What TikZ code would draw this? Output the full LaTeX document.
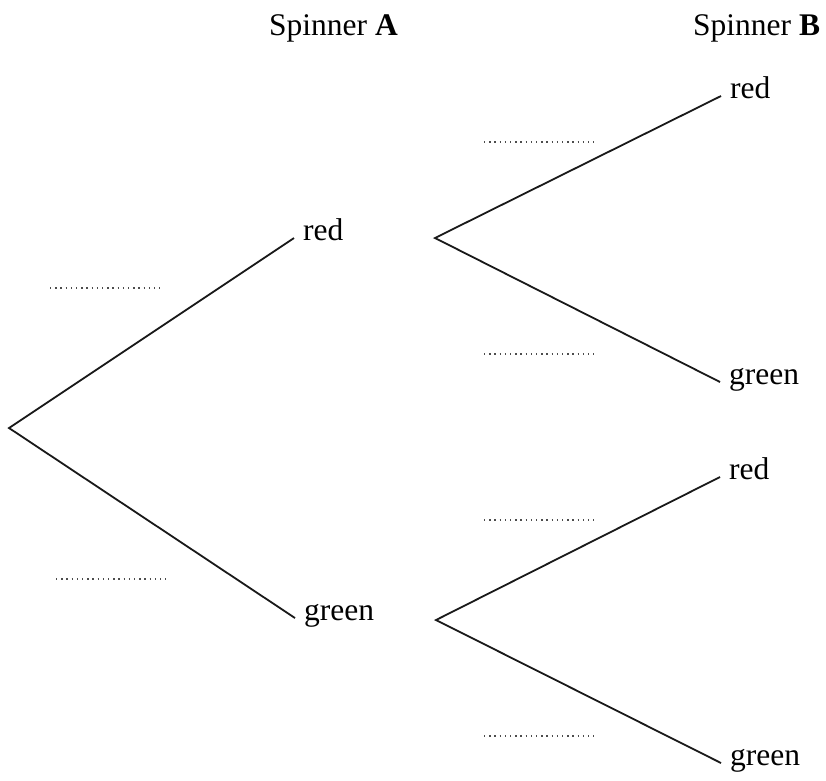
\documentclass[tikz,border=0pt]{standalone}
\usepackage{fontspec}
\setmainfont{Liberation Serif}
\usepackage{tikz}
\usetikzlibrary{positioning}

\begin{document}
\begin{tikzpicture}[
    x=1pt, y=-1pt,
    every node/.style={font=\fontsize{31.5}{36}\selectfont},
    lbl/.style={anchor=west, inner xsep=9pt, inner ysep=0pt, text height=0.45em, text depth=0pt},
    branch/.style={line width=1.8pt, draw=black!90, line join=miter},
    blank/.style={draw=black!70, line width=1.3pt, dash pattern=on 1.3pt off 3.9pt}
  ]
    \useasboundingbox (0,0) rectangle (826,780);
    % headings
    \node[anchor=base west, inner sep=0pt] (headA) at (269,35) {Spinner \textbf{A}};
    \node[anchor=base west, inner sep=0pt] (headB) at (693,35) {Spinner \textbf{B}};
    % spinner A
    \coordinate (root) at (9,428);
    \node[lbl] (ared) at (294,238) {red};
    \node[lbl] (agreen) at (295,618) {green};
    \draw[branch] (ared.west) -- (root) -- (agreen.west);
    % spinner B
    \coordinate (rfork) at (435,238);
    \coordinate (gfork) at (436,620);
    \node[lbl] (rred) at (721,96) {red};
    \node[lbl] (rgreen) at (720,382) {green};
    \node[lbl] (gred) at (720,477) {red};
    \node[lbl] (ggreen) at (721,763) {green};
    \draw[branch] (rred.west) -- (rfork) -- (rgreen.west);
    \draw[branch] (gred.west) -- (gfork) -- (ggreen.west);
    % blanks
    \draw[blank] (50,288) -- (160,288);
    \draw[blank] (56,579) -- (166,579);
    \draw[blank] (484,142) -- (594,142);
    \draw[blank] (484,354) -- (594,354);
    \draw[blank] (484,520) -- (594,520);
    \draw[blank] (484,736) -- (594,736);
\end{tikzpicture}
\end{document}
